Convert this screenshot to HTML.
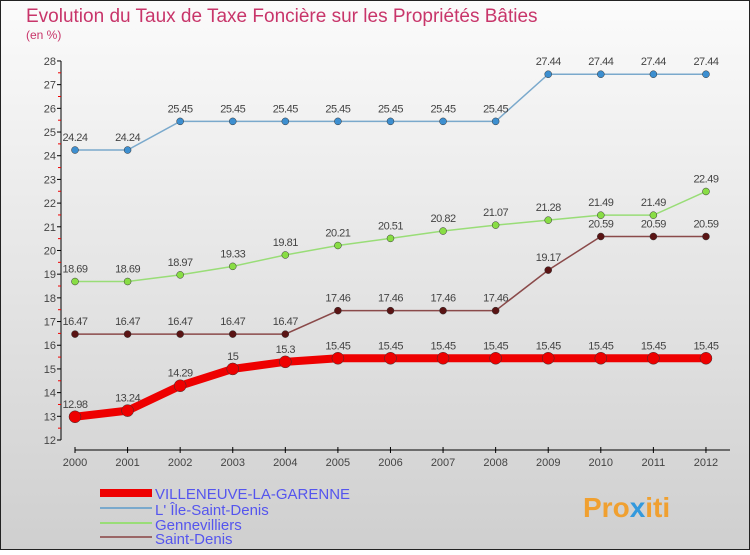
<!DOCTYPE html>
<html><head><meta charset="utf-8"><style>
body{margin:0}
#c{width:750px;height:550px;position:relative;font-family:"Liberation Sans",sans-serif;}
</style></head><body>
<div id="c">
<svg id="s" width="750" height="550" xmlns="http://www.w3.org/2000/svg">
<defs><linearGradient id="bg" x1="0" y1="0" x2="0" y2="1"><stop offset="0" stop-color="#fbfbfb"/><stop offset="1" stop-color="#cfcfcf"/></linearGradient></defs>
<rect x="0.5" y="0.5" width="749" height="549" fill="url(#bg)" stroke="#222"/>
<text x="26" y="22" font-size="19" fill="#c8356a">Evolution du Taux de Taxe Foncière sur les Propriétés Bâties</text>
<text x="26" y="39" font-size="12" fill="#c8356a">(en %)</text>
<g id="axes"></g><g id="series"></g>
<g>
<rect x="100" y="489" width="52" height="8" fill="#e00"/>
<text x="155" y="499" font-size="15" fill="#5555ee">VILLENEUVE-LA-GARENNE</text>
<rect x="100" y="507" width="52" height="2" fill="#7aa9cc"/>
<text x="155" y="515" font-size="15" fill="#5555ee">L' Île-Saint-Denis</text>
<rect x="100" y="522" width="52" height="2" fill="#99dd77"/>
<text x="155" y="530" font-size="15" fill="#5555ee">Gennevilliers</text>
<rect x="100" y="536" width="52" height="2" fill="#9a6666"/>
<text x="155" y="544" font-size="15" fill="#5555ee">Saint-Denis</text>
</g>
<text x="583" y="517" font-size="28" font-weight="bold" fill="#f0a030">Pro<tspan fill="#3399dd">x</tspan>iti</text>
</svg></div>
<script>
const years=[2000,2001,2002,2003,2004,2005,2006,2007,2008,2009,2010,2011,2012];
const yTicks=[12,13,14,15,16,17,18,19,20,21,22,23,24,25,26,27,28];
const villeneuve=[12.98,13.24,14.29,15,15.3,15.45,15.45,15.45,15.45,15.45,15.45,15.45,15.45];
const ileSaintDenis=[24.24,24.24,25.45,25.45,25.45,25.45,25.45,25.45,25.45,27.44,27.44,27.44,27.44];
const gennevilliers=[18.69,18.69,18.97,19.33,19.81,20.21,20.51,20.82,21.07,21.28,21.49,21.49,22.49];
const saintDenis=[16.47,16.47,16.47,16.47,16.47,17.46,17.46,17.46,17.46,19.17,20.59,20.59,20.59];
const NS="http://www.w3.org/2000/svg";
const xS=i=>75+i*52.58;
const yS=v=>440-(v-12)*23.69;
function mk(t,a,p){const e=document.createElementNS(NS,t);for(const k in a)e.setAttribute(k,a[k]);p.appendChild(e);return e;}
const ax=document.getElementById('axes');
const yl=mk('line',{x1:61,y1:yS(28),x2:61,y2:yS(12),stroke:'#000'},ax);


yTicks.forEach(v=>{
 const t=mk('line',{x1:57,y1:yS(v),x2:61,y2:yS(v),stroke:'#000'},ax);
 
 
 if(v<28){const r=mk('line',{x1:58,y1:yS(v+0.5),x2:61,y2:yS(v+0.5),stroke:'#e00'},ax);
 
 }
 const l=mk('text',{x:56,y:yS(v)+4,'font-size':11,'text-anchor':'end',fill:'#444'},ax);l.textContent=v;
 
 
});
const xl=mk('line',{x1:75,y1:450,x2:730,y2:450,stroke:'#000'},ax);


years.forEach((y,i)=>{
 const t=mk('line',{x1:xS(i),y1:447,x2:xS(i),y2:453,stroke:'#000'},ax);
 
 
 const l=mk('text',{x:xS(i),y:466,'font-size':11,'text-anchor':'middle',fill:'#444'},ax);l.textContent=y;
 
 
});
const sg=document.getElementById('series');
function series(data,name,color,dot,w,r){
 const g=mk('g',{},sg);
 
 
 const pl=mk('polyline',{points:data.map((v,i)=>xS(i)+','+yS(v)).join(' '),fill:'none',stroke:color,'stroke-width':w},g);
 
 
 data.forEach((v,i)=>{
  const c=mk('circle',{cx:xS(i),cy:yS(v),r:r,fill:dot,stroke:'#333','stroke-width':0.5},g);
  
  
  const l=mk('text',{x:xS(i),y:yS(v)-9,'font-size':11,'text-anchor':'middle',fill:'#444','letter-spacing':'-0.5'},g);
  l.textContent=v;
  
  
 });
}
series(ileSaintDenis,'ile-saint-denis','#7aa9cc','#3d8fd0',1.5,3.5);
series(gennevilliers,'gennevilliers','#99dd77','#88dd44',1.5,3.5);
series(saintDenis,'saint-denis','#8a4a4a','#5a1414',1.5,3.5);
series(villeneuve,'villeneuve','#e00','#e00',8,6);
</script>
</body></html>
